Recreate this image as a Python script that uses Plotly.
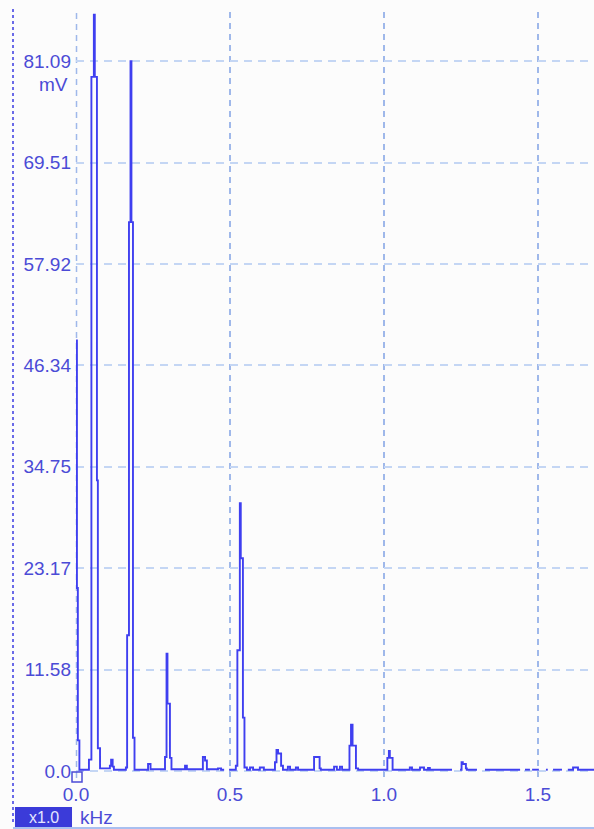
import plotly.graph_objects as go

freq_khz = [0.000, 0.003, 0.006, 0.011, 0.042, 0.050, 0.058, 0.061, 0.068, 0.071,
            0.078, 0.110, 0.114, 0.119, 0.123, 0.162, 0.166, 0.172, 0.177, 0.180,
            0.185, 0.190, 0.234, 0.242, 0.289, 0.294, 0.297, 0.305, 0.310, 0.354,
            0.360, 0.412, 0.419, 0.425, 0.461, 0.471, 0.481, 0.482, 0.497, 0.519,
            0.524, 0.532, 0.535, 0.542, 0.547, 0.555, 0.565, 0.575, 0.597, 0.610,
            0.646, 0.651, 0.656, 0.666, 0.672, 0.688, 0.695, 0.714, 0.721, 0.773,
            0.791, 0.795, 0.838, 0.847, 0.857, 0.864, 0.888, 0.893, 0.898, 0.909,
            0.916, 1.011, 1.016, 1.019, 1.028, 1.084, 1.091, 1.117, 1.130, 1.143,
            1.149, 1.221, 1.222, 1.247, 1.252, 1.256, 1.266, 1.269, 1.302, 1.303,
            1.328, 1.442, 1.443, 1.458, 1.474, 1.475, 1.481, 1.503, 1.504, 1.526,
            1.532, 1.533, 1.549, 1.578, 1.579, 1.597, 1.614, 1.630, 1.682]
level_mv = [49.2, 20.9, 3.5, 0.15, 1.3, 79.3, 86.4, 79.3, 33.2, 2.6,
            0.3, 0.6, 1.3, 0.5, 0.15, 0.4, 15.5, 62.7, 81.1, 62.7,
            3.8, 0.15, 0.8, 0.2, 1.6, 13.4, 7.7, 1.5, 0.2, 0.6,
            0.2, 1.6, 1.2, 0.2, 0.3, 0.15, 0.15, None, 0.15, 0.6,
            13.8, 30.6, 24.3, 6.1, 0.4, 0.15, 0.4, 0.15, 0.4, 0.15,
            1.0, 2.4, 2.0, 0.6, 0.15, 0.5, 0.15, 0.4, 0.15, 1.6,
            0.3, 0.15, 0.5, 0.15, 0.5, 0.15, 2.9, 5.3, 2.9, 0.3,
            0.15, 1.5, 2.3, 1.5, 0.15, 0.4, 0.15, 0.4, 0.15, 0.35,
            0.15, 0.15, None, 0.15, 1.0, 0.8, 0.3, 0.15, 0.15, None,
            0.15, 0.15, None, 0.15, 0.15, None, 0.15, 0.15, None, 0.15,
            0.15, None, 0.15, 0.15, None, 0.15, 0.4, 0.15, 0.15]

y_ticks = [0.0, 11.584, 23.168, 34.752, 46.336, 57.92, 69.504, 81.088]
y_labels = ["0.0", "11.58", "23.17", "34.75", "46.34", "57.92", "69.51", "81.09"]
x_ticks = [0.0, 0.5, 1.0, 1.5]
x_labels = ["0.0", "0.5", "1.0", "1.5"]

TXT = "#4b4bd6"
LINE = "#3f3ff0"
VGRID = "#9fb8ea"

fig = go.Figure()
fig.add_trace(go.Scatter(x=freq_khz, y=level_mv, mode="lines", line_shape="hv",
                         connectgaps=False, line=dict(color=LINE, width=1.9),
                         hoverinfo="x+y"))

fig.update_layout(
    width=594, height=829,
    margin=dict(l=76, r=0, t=12, b=51),
    plot_bgcolor="#fcfcfc", paper_bgcolor="#fcfcfc",
    showlegend=False,
    font=dict(family="Liberation Sans, Arial, sans-serif", size=19, color=TXT),
)
fig.update_xaxes(range=[0, 1.682], tickvals=x_ticks, ticktext=x_labels,
                 showgrid=True, gridcolor=VGRID, gridwidth=1.5, griddash="6px,5px",
                 zeroline=False, showline=False, ticks="", ticklabelstandoff=3)
fig.update_yaxes(range=[-0.80, 86.71], tickvals=y_ticks, ticktext=y_labels,
                 showgrid=True, gridcolor="#c4d6f4", gridwidth=1.5, griddash="8px,6px",
                 zeroline=False, showline=False, ticks="", ticklabelstandoff=4)

# 0 kHz grid line sits on the plot edge, draw it by hand
fig.add_shape(type="line", xref="paper", yref="paper", x0=0.001, x1=0.001,
              y0=0, y1=1, line=dict(color=VGRID, width=1.5, dash="6px,5px"), layer="below")
# frame bits of the scope window
fig.add_shape(type="line", xref="paper", yref="paper", x0=-0.1216, x1=-0.1216,
              y0=1.004, y1=-0.060, line=dict(color="#6a6ae8", width=2, dash="dot"))
fig.add_shape(type="line", xref="paper", yref="paper", x0=-0.1216, x1=1.0,
              y0=-0.0653, y1=-0.0653, line=dict(color="#a9bff0", width=2))
fig.add_shape(type="rect", xref="paper", yref="paper", x0=-0.0077, x1=0.0116,
              y0=-0.0052, y1=0.0078, line=dict(color=TXT, width=1.5))
fig.add_shape(type="rect", xref="paper", yref="paper", x0=-0.1178, x1=-0.0077,
              y0=-0.064, y1=-0.0379, line=dict(width=0), fillcolor="#3b3bd9")
fig.add_annotation(text="x1.0", xref="paper", yref="paper", x=-0.0627, y=-0.051,
                   xanchor="center", yanchor="middle", showarrow=False,
                   font=dict(size=16, color="#e6e6ff"))
fig.add_annotation(text="kHz", xref="paper", yref="paper", x=0.0039, y=-0.0522,
                   xanchor="left", yanchor="middle", showarrow=False)
fig.add_annotation(text="mV", xref="paper", yref="paper", x=-0.0116, y=0.9047,
                   xanchor="right", yanchor="middle", showarrow=False)

# drop the default 8px body margin so the figure fills the window
fig.write_html("out.html", config={"displayModeBar": False},
               post_script="document.body.style.margin='0';")
